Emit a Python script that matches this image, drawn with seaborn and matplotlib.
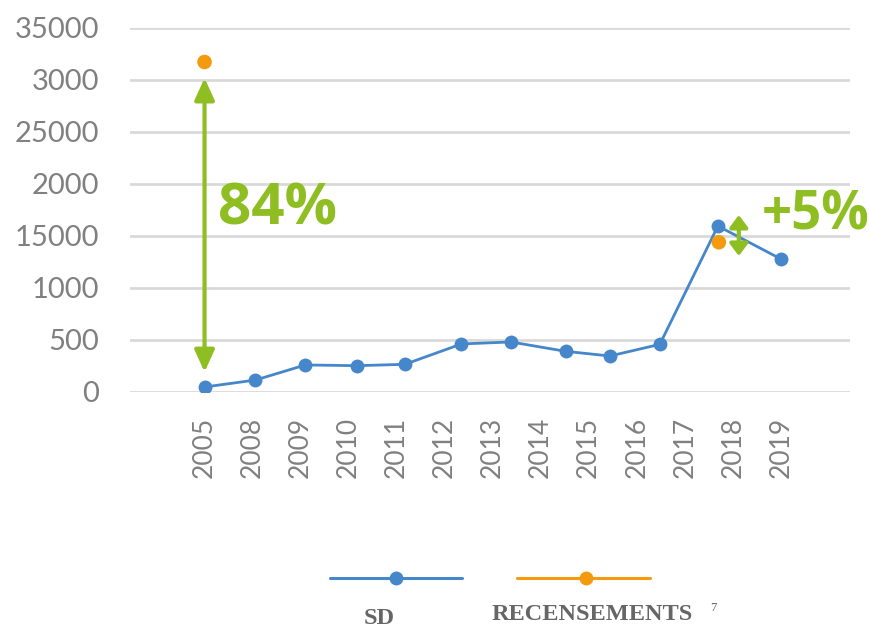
import matplotlib
matplotlib.use("Agg")
import matplotlib.pyplot as plt
from matplotlib.lines import Line2D
import seaborn as sns
import pandas as pd

# ---- data ----
categories = ["2005", "2008", "2009", "2010", "2011", "2012", "2013",
              "2014", "2015", "2016", "2017", "2018", "2019"]
ytick_values = [0, 500, 1000, 1500, 2000, 2500, 3000, 3500]
ytick_labels = ["0", "500", "1000", "15000", "2000", "25000", "3000", "35000"]

# SD series: position on the category axis (as drawn) and value
sd_pos = [0.0, 1.06, 2.1, 3.17, 4.17, 5.35, 6.38, 7.52, 8.44, 9.48, 10.69, 12.0]
sd_values = [48, 115, 260, 253, 266, 462, 481, 391, 346, 458, 1596, 1279]

# RECENSEMENTS series
rec_pos = [0.0, 10.71]
rec_values = [3173, 1440]

# annotations
ann1_text, ann1_x, ann1_lo, ann1_hi = "84%", 0.0, 192, 3019
ann2_text, ann2_x, ann2_lo, ann2_hi = "+5%", 11.125, 1308, 1702

BLUE = "#4587CA"
ORANGE = "#F39A0E"
GREEN = "#8FBE22"
GRID = "#D9D9D9"
TXT = "#808080"

sns.set_theme(style="white")
plt.rcParams["font.family"] = ["Lato", "DejaVu Sans"]

fig = plt.figure(figsize=(8.7, 6.29), dpi=100)
ax = fig.add_axes([0.149, 0.3768, 0.828, 0.5787])

sd_df = pd.DataFrame({"x": sd_pos, "y": sd_values})
rec_df = pd.DataFrame({"x": rec_pos, "y": rec_values})

sns.lineplot(data=sd_df, x="x", y="y", ax=ax, color=BLUE, linewidth=2.0,
             marker="o", markersize=10, markeredgewidth=0, sort=False, zorder=3)
sns.scatterplot(data=rec_df, x="x", y="y", ax=ax, color=ORANGE, s=110,
                edgecolor="none", zorder=4)

ax.set_ylim(0, 3500)
ax.set_xlim(-1.56, 13.44)
ax.set_yticks(ytick_values)
ax.set_yticklabels(ytick_labels)
ax.set_xticks(range(len(categories)))
ax.set_xticklabels(categories, rotation=90)
ax.tick_params(axis="y", labelsize=21, labelcolor=TXT, length=0, pad=22)
ax.tick_params(axis="x", labelsize=19, labelcolor=TXT, length=0, pad=18)
for lbl in ax.get_xticklabels() + ax.get_yticklabels():
    lbl.set_fontweight("normal")
    lbl.set_color(TXT)
ax.set_xlabel("")
ax.set_ylabel("")
ax.grid(axis="y", color=GRID, linewidth=2)
ax.grid(axis="x", visible=False)
ax.set_axisbelow(True)
for s in ax.spines.values():
    s.set_visible(False)

# arrows
arrow1_kw = dict(arrowstyle="<|-|>,head_length=1.1,head_width=0.5", color=GREEN,
                 lw=3, shrinkA=0, shrinkB=0)
arrow2_kw = dict(arrowstyle="<|-|>,head_length=0.6,head_width=0.45", color=GREEN,
                 lw=3, shrinkA=0, shrinkB=0)
ax.annotate("", xy=(ann1_x, ann1_hi), xytext=(ann1_x, ann1_lo),
            arrowprops=arrow1_kw, zorder=5)
ax.annotate("", xy=(ann2_x, ann2_hi), xytext=(ann2_x, ann2_lo),
            arrowprops=arrow2_kw, zorder=5)
ax.text(0.27, 1750, ann1_text, color=GREEN, fontsize=42, fontweight="bold",
        ha="left", va="center", family=["Open Sans", "DejaVu Sans"])
ax.text(11.6, 1700, ann2_text, color=GREEN, fontsize=38, fontweight="bold",
        ha="left", va="center", family=["Open Sans", "DejaVu Sans"], clip_on=False)

# legend (drawn manually, labels beneath the line samples)
def fx(px):
    return px / 870.0

def fy(py):
    return 1 - py / 629.0

fig.add_artist(Line2D([fx(330), fx(462)], [fy(578), fy(578)], color=BLUE, lw=2.2))
fig.add_artist(Line2D([fx(396)], [fy(578)], color=BLUE, marker="o", markersize=10,
                      markeredgewidth=0))
fig.add_artist(Line2D([fx(517), fx(650)], [fy(578), fy(578)], color=ORANGE, lw=2.2))
fig.add_artist(Line2D([fx(586)], [fy(578)], color=ORANGE, marker="o", markersize=10,
                      markeredgewidth=0))
fig.text(fx(379), fy(619), "SD", ha="center", va="center", fontsize=17.5,
         fontweight="bold", color="#666666", family=["Liberation Serif", "DejaVu Serif"])
fig.text(fx(592), fy(614), "RECENSEMENTS", ha="center", va="center", fontsize=17.5,
         fontweight="bold", color="#666666", family=["Liberation Serif", "DejaVu Serif"])
fig.text(fx(713), fy(608), "7", ha="center", va="center", fontsize=9,
         color="#666666", family=["Liberation Serif", "DejaVu Serif"])

fig.savefig("out.png", dpi=100)
